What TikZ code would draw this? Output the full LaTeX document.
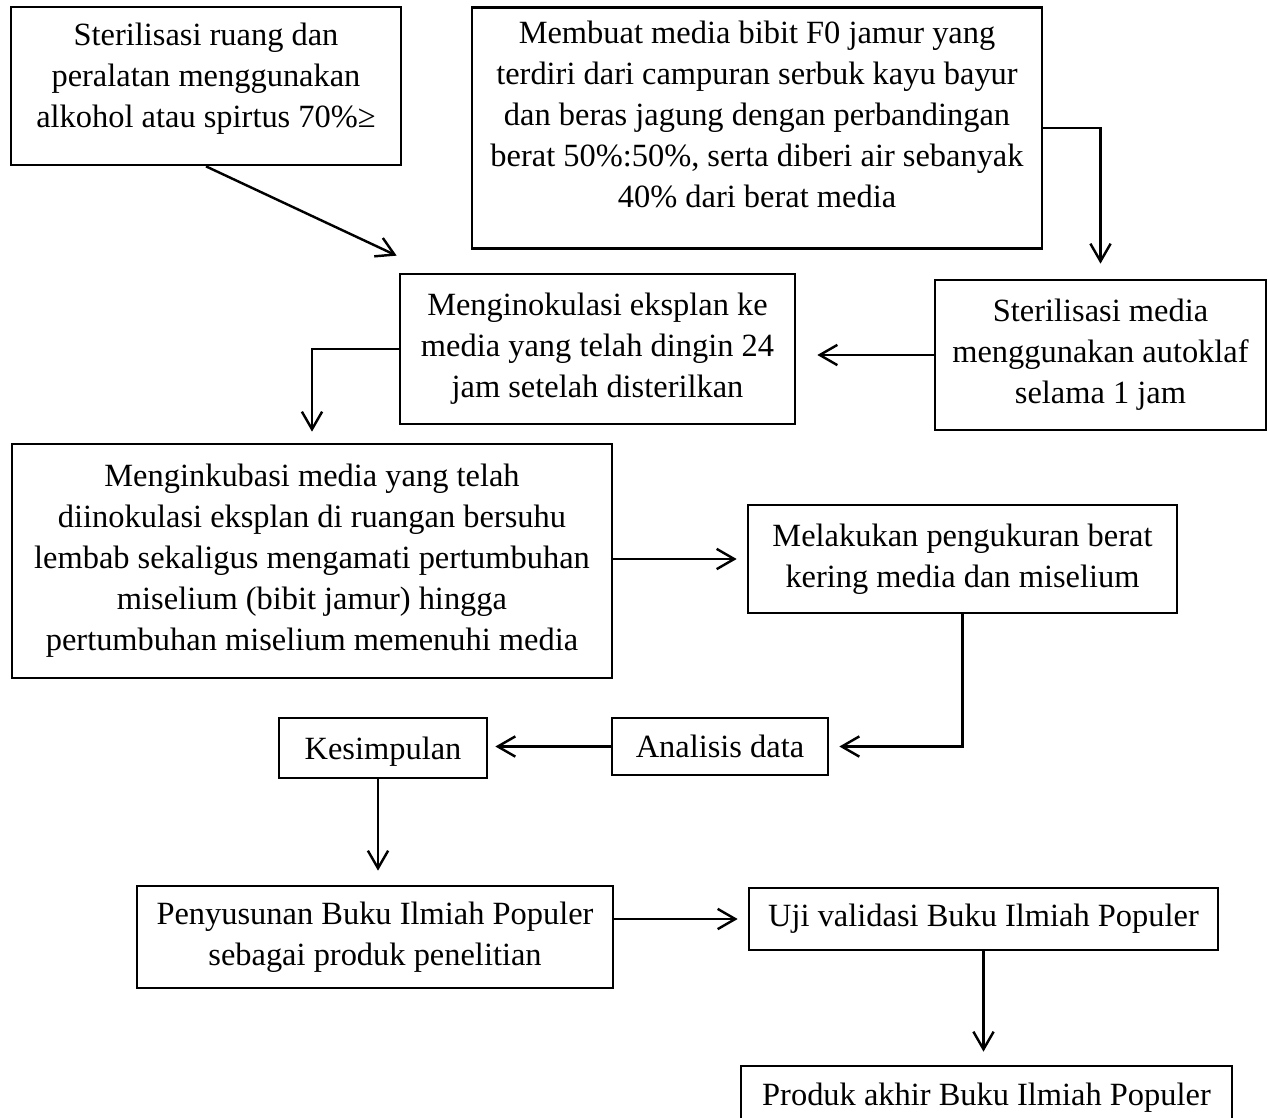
\documentclass[tikz,border=0pt]{standalone}
\usepackage{fontspec}
\setmainfont{Liberation Serif}
\usetikzlibrary{arrows.meta}

\begin{document}
\begin{tikzpicture}[x=0.37pt,y=-0.37pt,
  kotak/.style={draw=black,line width=1pt,align=center,inner sep=0pt,font=\fontsize{12}{15.2}\selectfont},
  luas/.style 2 args={minimum width=#1*0.37pt,minimum height=#2*0.37pt},
  panah/.style={-{Straight Barb[length=6.5pt,width=7.5pt]},line width=0.9pt}]
\useasboundingbox (0,0) rectangle (1268,1117);
\clip (0,0) rectangle (1268,1117);
% kotak proses
\node[kotak,luas={390}{158}] (steril) at (206,86) {Sterilisasi ruang dan\\peralatan menggunakan\\alkohol atau spirtus 70\%≥\rule[-8pt]{0pt}{0pt}};
\node[kotak,luas={570}{241}] (media) at (757,128) {Membuat media bibit F0 jamur yang\\terdiri dari campuran serbuk kayu bayur\\dan beras jagung dengan perbandingan\\berat 50\%:50\%, serta diberi air sebanyak\\40\% dari berat media\rule[-10pt]{0pt}{0pt}};
\node[kotak,luas={395}{150}] (inokulasi) at (597.5,349) {Menginokulasi eksplan ke\\media yang telah dingin 24\\jam setelah disterilkan};
\node[kotak,luas={331}{150}] (autoklaf) at (1100.5,355) {Sterilisasi media\\menggunakan autoklaf\\selama 1 jam};
\node[kotak,luas={600}{234}] (inkubasi) at (312,561) {Menginkubasi media yang telah\\diinokulasi eksplan di ruangan bersuhu\\lembab sekaligus mengamati pertumbuhan\\miselium (bibit jamur) hingga\\pertumbuhan miselium memenuhi media};
\node[kotak,luas={429}{108}] (ukur) at (962.5,559) {Melakukan pengukuran berat\\kering media dan miselium};
\node[kotak,luas={216}{57}] (analisis) at (720,746.5) {Analisis data};
\node[kotak,luas={208}{60},text depth=0pt] (simpul) at (383,748) {Kesimpulan};
\node[kotak,luas={476}{102}] (susun) at (375,937) {Penyusunan Buku Ilmiah Populer\\sebagai produk penelitian};
\node[kotak,luas={469}{62}] (uji) at (983.5,919) {Uji validasi Buku Ilmiah Populer};
\node[kotak,luas={491}{64}] (produk) at (986.5,1098) {Produk akhir Buku Ilmiah Populer};
% panah
\draw[panah] (steril.south) -- ([shift={(-2,-17)}]inokulasi.north west);
\draw[panah] (media.east) -| ([shift={(0,-15)}]autoklaf.north);
\coordinate (ujungD) at ([shift={(21,0)}]inokulasi.east);
\draw[panah] (autoklaf.west) -- (ujungD |- autoklaf.west);
\draw[panah] (inokulasi.west) -| ([shift={(0,-11)}]inkubasi.north);
\draw[panah] (inkubasi.east |- ukur.west) -- ([shift={(-10,0)}]ukur.west);
\draw[panah] (ukur.south) |- ([shift={(10,0)}]analisis.east);
\coordinate (ujungH) at ([shift={(7,0)}]simpul.east);
\draw[panah] (analisis.west) -- (ujungH |- analisis.west);
\coordinate (ujungG) at ([shift={(3,-14)}]susun.north);
\draw[panah] (ujungG |- simpul.south) -- (ujungG);
\draw[panah] (susun.east |- uji.west) -- ([shift={(-10,0)}]uji.west);
\coordinate (ujungJ) at ([shift={(0,-13)}]produk.north);
\draw[panah] (uji.south) -- (uji.south |- ujungJ);
\end{tikzpicture}
\end{document}
